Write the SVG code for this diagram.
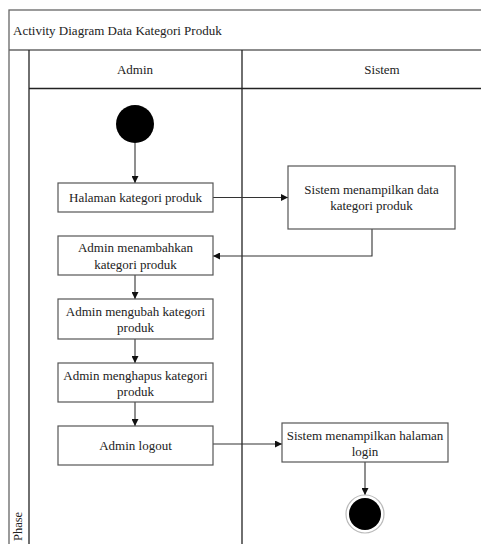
<svg xmlns="http://www.w3.org/2000/svg" width="481" height="544" viewBox="0 0 481 544">
<defs>
<marker id="arr" viewBox="0 0 10 10" refX="10" refY="5" markerWidth="7" markerHeight="7" markerUnits="userSpaceOnUse" orient="auto">
<path d="M0,0 L10,5 L0,10 z" fill="#111"/>
</marker>
<style>
text{font-family:"Liberation Serif","Times New Roman",serif;font-size:13px;fill:#222;}
.c{text-anchor:middle;}
.box{fill:#fff;stroke:#555;stroke-width:1.2;}
.lane{fill:none;stroke:#222;stroke-width:1.3;}
.frame{fill:none;stroke:#666;stroke-width:1.3;}
.edge{fill:none;stroke:#333;stroke-width:1.1;marker-end:url(#arr);}
</style>
</defs>
<rect width="481" height="544" fill="#fff"/>
<g id="frame">
<rect class="frame" x="9" y="10" width="480" height="540"/>
<line class="frame" x1="9" y1="50" x2="481" y2="50"/>
<text x="13" y="35">Activity Diagram Data Kategori Produk</text>
</g>
<g id="lanes">
<line class="lane" x1="29" y1="50" x2="29" y2="544"/>
<line class="lane" x1="242" y1="50" x2="242" y2="544"/>
<line class="lane" x1="29" y1="88.5" x2="481" y2="88.5"/>
<text class="c" x="135" y="74">Admin</text>
<text class="c" x="382" y="74">Sistem</text>
<text transform="translate(22,541) rotate(-90)" style="font-size:12.5px">Phase</text>
</g>
<g id="connectors">
<line class="edge" x1="135" y1="143" x2="135" y2="183"/>
<line class="edge" x1="213" y1="197.5" x2="288" y2="197.5"/>
<polyline class="edge" points="372,229 372,256 213,256"/>
<line class="edge" x1="135" y1="275" x2="135" y2="299"/>
<line class="edge" x1="135" y1="339" x2="135" y2="363"/>
<line class="edge" x1="135" y1="402" x2="135" y2="426"/>
<line class="edge" x1="213" y1="444" x2="282" y2="444"/>
<line class="edge" x1="365" y1="462" x2="365" y2="495"/>
</g>
<g id="start">
<circle cx="135" cy="124" r="19" fill="#000"/>
</g>
<g id="halaman">
<rect class="box" x="58" y="183" width="155" height="29"/>
<text class="c" x="135.5" y="202">Halaman kategori produk</text>
</g>
<g id="sistem-data">
<rect class="box" x="288" y="166" width="167" height="63"/>
<text class="c" x="371.5" y="194">Sistem menampilkan data</text>
<text class="c" x="371.5" y="210">kategori produk</text>
</g>
<g id="tambah">
<rect class="box" x="58" y="236" width="155" height="39"/>
<text class="c" x="135.5" y="252">Admin menambahkan</text>
<text class="c" x="135.5" y="269">kategori produk</text>
</g>
<g id="ubah">
<rect class="box" x="58" y="299" width="155" height="40"/>
<text class="c" x="135.5" y="316">Admin mengubah kategori</text>
<text class="c" x="135.5" y="332">produk</text>
</g>
<g id="hapus">
<rect class="box" x="58" y="363" width="155" height="39"/>
<text class="c" x="135.5" y="380">Admin menghapus kategori</text>
<text class="c" x="135.5" y="396">produk</text>
</g>
<g id="logout">
<rect class="box" x="58" y="426" width="155" height="39"/>
<text class="c" x="135.5" y="450">Admin logout</text>
</g>
<g id="sistem-login">
<rect class="box" x="282" y="423" width="166" height="39"/>
<text class="c" x="365" y="440">Sistem menampilkan halaman</text>
<text class="c" x="365" y="456">login</text>
</g>
<g id="end">
<circle cx="365" cy="514" r="19" fill="#fff" stroke="#bbb" stroke-width="1.2"/>
<circle cx="365" cy="514" r="16" fill="#000"/>
</g>
</svg>
